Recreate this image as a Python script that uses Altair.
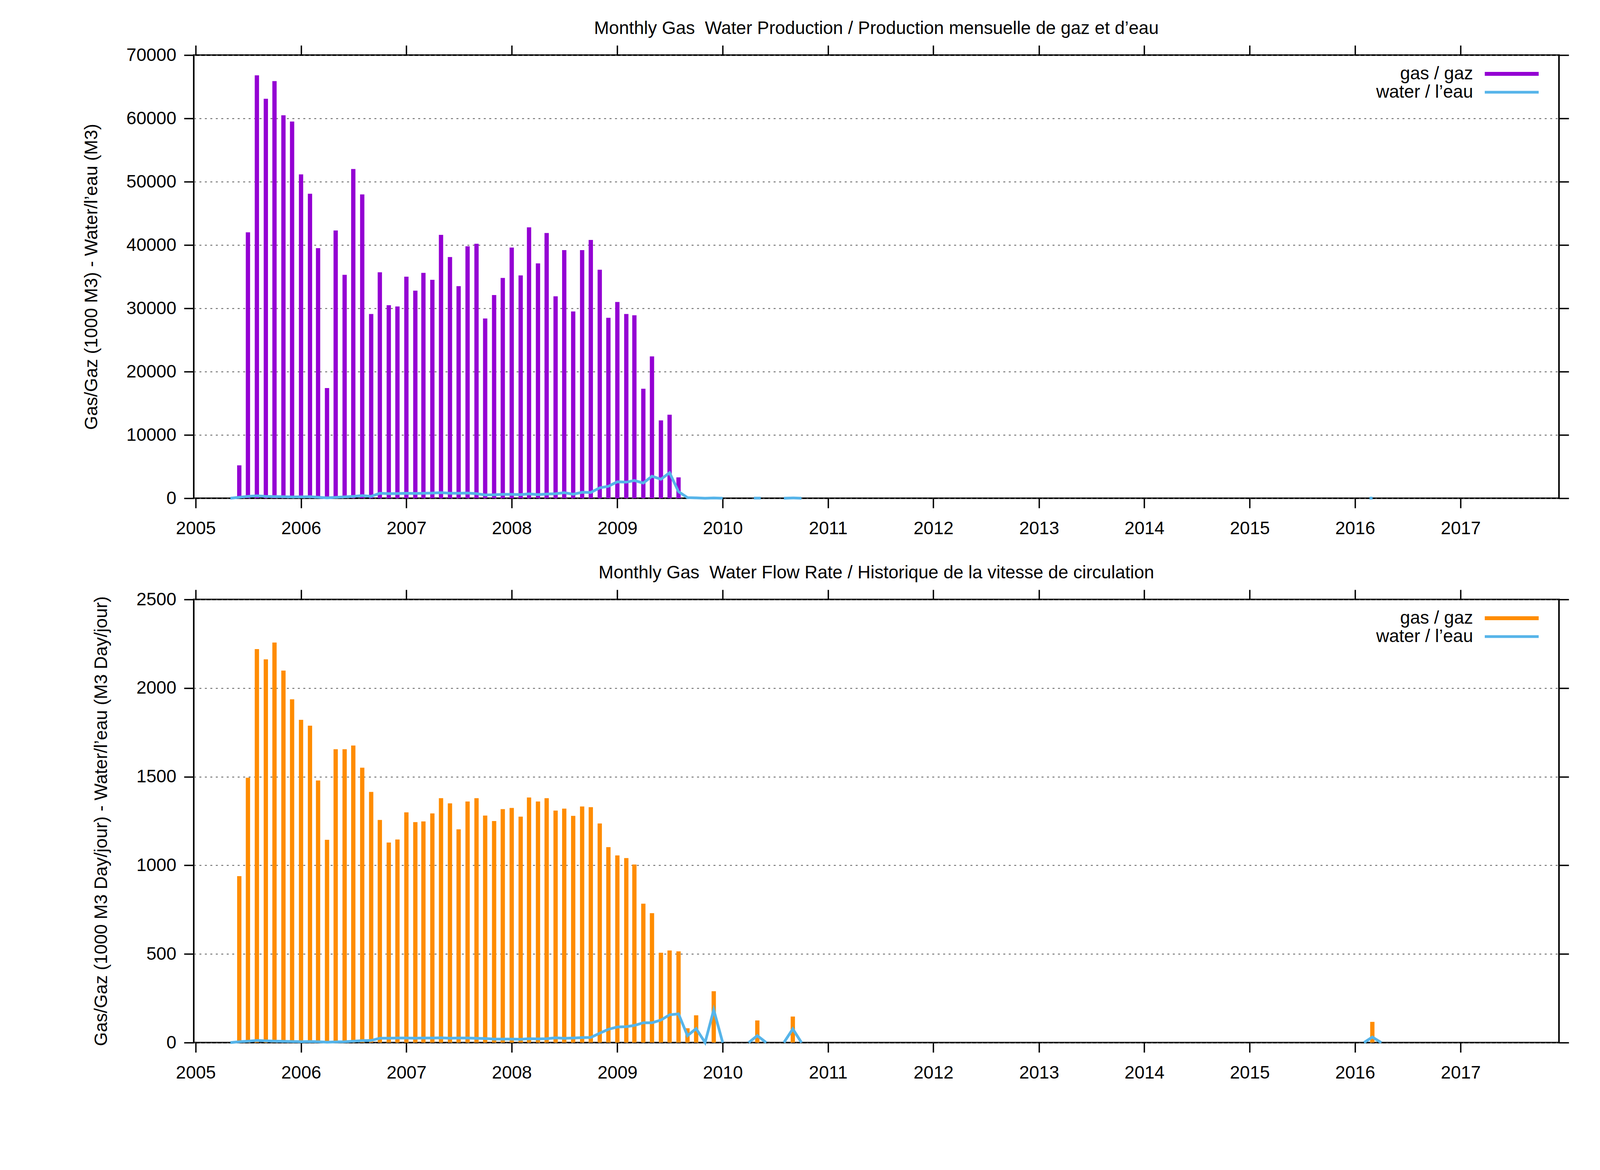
import altair as alt
import pandas as pd

FONT = "Liberation Sans"
GAS_PURPLE = "#9400D3"
GAS_ORANGE = "#FF8C00"
WATER_BLUE = "#56B4E9"

panel_titles = [
    "Monthly Gas\u00a0 Water Production / Production mensuelle de gaz et d\u2019eau",
    "Monthly Gas\u00a0 Water Flow Rate / Historique de la vitesse de circulation",
]
y_titles = [
    "Gas/Gaz (1000 M3) - Water/l\u2019eau (M3)",
    "Gas/Gaz (1000 M3 Day/jour) - Water/l\u2019eau (M3 Day/jour)",
]
legend_labels = ["gas / gaz", "water / l\u2019eau"]

# monthly gas production (1000 m3), June 2005 .. Aug 2009
gas_start = "2005-06-01"
gas_prod = [5200, 42000, 66800, 63100, 65900, 60500, 59500, 51150, 48100, 39500,
            17400, 42300, 35300, 52000, 48000, 29100, 35700, 30500, 30300, 35000,
            32800, 35600, 34500, 41600, 38100, 33500, 39800, 40200, 28400, 32100,
            34800, 39600, 35200, 42800, 37100, 41900, 31900, 39200, 29500, 39200,
            40800, 36100, 28500, 31000, 29100, 28900, 17300, 22400, 12300, 13200, 3300]

# monthly gas flow rate (1000 m3/day), June 2005 .. Aug 2009
gas_rate = [939, 1494, 2220, 2162, 2257, 2099, 1937, 1821, 1788, 1479,
            1144, 1655, 1655, 1676, 1551, 1414, 1256, 1129, 1146, 1299,
            1244, 1248, 1293, 1379, 1350, 1203, 1360, 1379, 1281, 1250,
            1317, 1324, 1275, 1383, 1360, 1379, 1309, 1320, 1279, 1332,
            1328, 1236, 1103, 1056, 1041, 1005, 784, 730, 507, 520, 515]
gas_rate_extra_dates = ["2009-09-01", "2009-10-01", "2009-12-01", "2010-05-01", "2010-09-01", "2016-03-01"]
gas_rate_extra = [81, 154, 290, 125, 147, 117]

# monthly water production (m3), May 2005 .. Jan 2010
water_start = "2005-05-01"
water_prod = [0, 160, 300, 390, 300, 270, 250, 200,
              220, 250, 160, 60, 140, 220, 300, 410, 300, 780, 720, 740,
              780, 760, 780, 820, 880, 780, 780, 820, 720, 530, 550, 610,
              620, 570, 700, 570, 670, 710, 875, 630, 935, 915, 1650, 1890,
              2600, 2540, 2800, 2400, 3480, 3010, 4030, 1040, 100, 60, 0, 40,
              0]
water_prod_seg_dates = [["2010-04-19", "2010-05-13"],
                        ["2010-08-01", "2010-09-01", "2010-10-01"],
                        ["2016-02-20", "2016-03-02"]]
water_prod_seg_values = [[20, 20], [0, 50, 0], [20, 20]]

# monthly water flow rate (m3/day), May 2005 .. Jan 2010
water_rate = [0, 5, 8, 12, 10, 8, 7, 6,
              5, 6, 5, 2, 4, 5, 8, 11, 12, 25, 25, 26,
              26, 25, 26, 26, 27, 25, 26, 26, 24, 23, 20, 20,
              20, 19, 22, 21, 22, 27, 24, 26, 28, 29, 53, 75,
              88, 90, 97, 112, 112, 127, 157, 162, 39, 79, 0, 185,
              0]
water_rate_seg_dates = [["2010-04-01", "2010-05-01", "2010-06-01"],
                        ["2010-08-01", "2010-09-01", "2010-10-01"],
                        ["2016-02-01", "2016-03-01", "2016-04-01"]]
water_rate_seg_values = [[0, 39, 0], [0, 77, 0], [0, 31, 0]]


def monthly(start, values):
    return pd.DataFrame({"date": pd.date_range(start, periods=len(values), freq="MS"),
                         "value": values})


def segments(start, values, seg_dates, seg_values):
    frames = [monthly(start, values).assign(seg=0)]
    for i, (d, v) in enumerate(zip(seg_dates, seg_values)):
        frames.append(pd.DataFrame({"date": pd.to_datetime(d), "value": v, "seg": i + 1}))
    return pd.concat(frames, ignore_index=True)


top_bars = monthly(gas_start, gas_prod)
bot_bars = pd.concat([monthly(gas_start, gas_rate),
                      pd.DataFrame({"date": pd.to_datetime(gas_rate_extra_dates), "value": gas_rate_extra})],
                     ignore_index=True)
top_line = segments(water_start, water_prod, water_prod_seg_dates, water_prod_seg_values)
bot_line = segments(water_start, water_rate, water_rate_seg_dates, water_rate_seg_values)

W, H = 3495, 1134


def panel(title, ytitle, ymax, ystep, bar_df, line_df, bar_color, gas_leg_w):
    xscale = alt.Scale(domain=[alt.DateTime(year=2005, month=1, date=1),
                               alt.DateTime(year=2017, month=12, date=1)])
    yscale = alt.Scale(domain=[0, ymax], nice=False)
    yvals = list(range(0, ymax + 1, ystep))
    years = alt.TimeIntervalStep(interval="year", step=1)
    xaxis = alt.Axis(title=None, format="%Y", tickCount=years, grid=False, domain=False,
                     labelPadding=30, tickSize=25, labelFlush=False, labelOverlap=False)
    yaxis = alt.Axis(title=ytitle, values=yvals, format="d", grid=True, domain=False,
                     tickSize=25, labelPadding=20, titlePadding=65, labelFlush=False,
                     gridColor="#555555", gridDash=[5, 9], gridWidth=2)
    bars = alt.Chart(bar_df).mark_bar(color=bar_color, size=11).encode(
        x=alt.X("date:T", scale=xscale, axis=xaxis),
        y=alt.Y("value:Q", scale=yscale, axis=yaxis),
    )
    mirror = alt.Chart(bar_df).mark_bar(opacity=0, size=11).encode(
        x=alt.X("date:T", scale=xscale,
                axis=alt.Axis(orient="top", labels=False, title=None, tickCount=years,
                              grid=False, domain=False, tickSize=25)),
        y=alt.Y("value:Q", scale=yscale,
                axis=alt.Axis(orient="right", labels=False, title=None, values=yvals,
                              grid=False, domain=False, tickSize=25)),
    )
    line = alt.Chart(line_df).mark_line(color=WATER_BLUE, strokeWidth=7).encode(
        x=alt.X("date:T", scale=xscale, axis=None),
        y=alt.Y("value:Q", scale=yscale, axis=None),
        detail="seg:N",
    )
    leg = []
    for i, (lab, col, sw) in enumerate(zip(legend_labels, [bar_color, WATER_BLUE], [gas_leg_w, 7])):
        d = pd.DataFrame({"label": [lab]})
        yy = 48 + 47 * i
        leg.append(alt.Chart(d).mark_text(font=FONT, fontSize=46, align="right",
                                          baseline="middle", color="black").encode(
            x=alt.value(3275), y=alt.value(yy), text="label:N"))
        leg.append(alt.Chart(d).mark_rule(color=col, strokeWidth=sw).encode(
            x=alt.value(3305), x2=alt.value(3443), y=alt.value(yy)))
    return alt.layer(bars, mirror, line, *leg).resolve_axis(
        x="independent", y="independent"
    ).properties(
        width=W, height=H,
        title=alt.TitleParams(title, font=FONT, fontSize=46, fontWeight="normal",
                              anchor="middle", frame="group", baseline="alphabetic",
                              offset=-19, color="black"),
    )


top = panel(panel_titles[0], y_titles[0], 70000, 10000, top_bars, top_line, GAS_PURPLE, 10)
bottom = panel(panel_titles[1], y_titles[1], 2500, 500, bot_bars, bot_line, GAS_ORANGE, 10)

chart = alt.vconcat(top, bottom, spacing=64).properties(
    padding={"left": 201, "top": 40, "right": 20, "bottom": 20},
    background="white",
).configure_axis(
    labelFont=FONT, titleFont=FONT, labelFontSize=46, titleFontSize=46,
    titleFontWeight="normal", labelColor="black", titleColor="black",
    tickColor="black", tickWidth=3.5,
).configure_view(stroke="black", strokeWidth=4)

chart.save("out.html", embed_options={"renderer": "svg", "actions": False})
